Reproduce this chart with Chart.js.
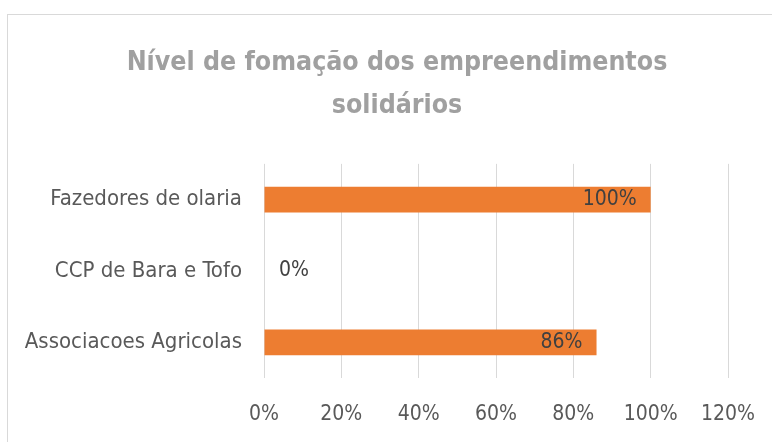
<!DOCTYPE html>
<html>
<head>
<meta charset="utf-8">
<script src="https://cdn.jsdelivr.net/npm/chart.js@4"></script>
<style>
  html, body { margin: 0; padding: 0; background: #fff; }
  #wrap { position: relative; width: 772px; height: 442px; overflow: hidden; }
  #frame { position: absolute; left: 7px; top: 14px; width: 900px; height: 600px; border: 1px solid #d9d9d9; box-sizing: border-box; }
  canvas { position: absolute; left: 0; top: 0; }
</style>
</head>
<body>
<div id="wrap">
  <div id="frame"></div>
  <canvas id="c" width="772" height="442"></canvas>
</div>
<script>
const titleLines = ["Nível de fomação dos empreendimentos", "solidários"];
const categories = ["Fazedores de olaria", "CCP de Bara e Tofo", "Associacoes Agricolas"];
const values = [100, 0, 86];
const tickValues = [0, 20, 40, 60, 80, 100, 120];

const FONT = "'Liberation Sans Narrow', 'DejaVu Sans Condensed', 'Liberation Sans', sans-serif";

const labelPlugin = {
  id: 'barLabels',
  afterLayout(chart) {
    // centre the title over the frame region, like the original
    if (chart.titleBlock) {
      chart.titleBlock.left = 66;
      chart.titleBlock.right = 728;
      chart.titleBlock.width = 728 - 66;
    }
  },
  afterDatasetsDraw(chart) {
    const ctx = chart.ctx;
    const meta = chart.getDatasetMeta(0);
    const xs = chart.scales.x;
    ctx.save();
    ctx.font = "21px " + FONT;
    ctx.fillStyle = '#404040';
    ctx.textBaseline = 'middle';
    meta.data.forEach((bar, i) => {
      const v = values[i];
      const txt = v + '%';
      if (v === 0) {
        ctx.textAlign = 'left';
        ctx.fillText(txt, xs.getPixelForValue(0) + 15, bar.y);
      } else {
        ctx.textAlign = 'right';
        ctx.fillText(txt, bar.x - 14, bar.y);
      }
    });
    ctx.restore();
  }
};

new Chart(document.getElementById('c'), {
  type: 'bar',
  data: {
    labels: categories,
    datasets: [{
      data: values,
      backgroundColor: '#ed7d31',
      borderWidth: 0,
      barPercentage: 0.36,
      categoryPercentage: 1.0
    }]
  },
  options: {
    indexAxis: 'y',
    responsive: false,
    animation: false,
    layout: { padding: { left: 0, right: 44, top: 0, bottom: 19 } },
    plugins: {
      legend: { display: false },
      tooltip: { enabled: false },
      title: {
        display: true,
        text: titleLines,
        color: '#a0a0a0',
        font: { family: FONT, size: 26.5, weight: 'bold', lineHeight: 1.62 },
        padding: { top: 42, bottom: 36 }
      }
    },
    scales: {
      x: {
        min: 0, max: 120,
        afterBuildTicks(scale) { scale.ticks = tickValues.map(v => ({ value: v })); },
        afterFit(scale) { scale.height = 45; scale.paddingRight = 0; scale.paddingLeft = 0; },
        ticks: {
          color: '#595959',
          font: { family: FONT, size: 21 },
          padding: 24,
          maxRotation: 0,
          callback: v => v + '%'
        },
        grid: { color: '#d9d9d9', lineWidth: 1, drawTicks: false },
        border: { display: false }
      },
      y: {
        afterFit(scale) { scale.width = 264; },
        ticks: {
          color: '#595959',
          font: { family: FONT, size: 22 },
          padding: 22
        },
        grid: { display: false, drawTicks: false },
        border: { display: false }
      }
    }
  },
  plugins: [labelPlugin]
});
</script>
</body>
</html>
